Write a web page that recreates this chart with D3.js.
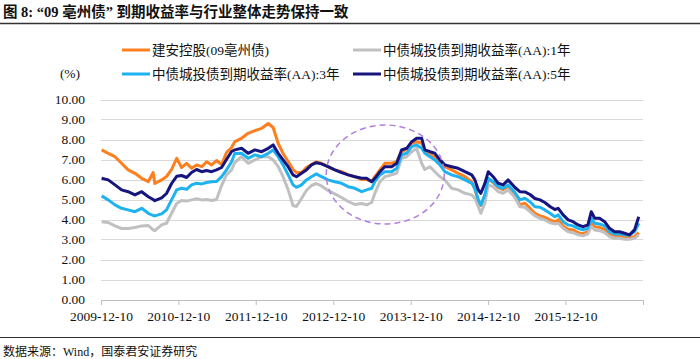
<!DOCTYPE html>
<html><head><meta charset="utf-8">
<script src="https://cdn.jsdelivr.net/npm/d3@7/dist/d3.min.js"></script>
<style>
html,body{margin:0;padding:0;background:#fff;}
svg{display:block;font-family:"Liberation Serif","Noto Sans CJK SC",serif;}
</style></head>
<body><svg id="c" width="700" height="359"></svg>
<script>
const title = "图 8: “09 亳州债” 到期收益率与行业整体走势保持一致";
const source = "数据来源：Wind，国泰君安证券研究";
const seriesNames = ["建安控股(09亳州债)", "中债城投债到期收益率(AA):1年", "中债城投债到期收益率(AA):3年", "中债城投债到期收益率(AA):5年"];
const xTickDates = ["2009-12-10","2010-12-10","2011-12-10","2012-12-10","2013-12-10","2014-12-10","2015-12-10","2016-12-10"];
const xTickLabels = ["2009-12-10","2010-12-10","2011-12-10","2012-12-10","2013-12-10","2014-12-10","2015-12-10",""];
const yTicks = [0,1,2,3,4,5,6,7,8,9,10];

const dates = ["2009-12-13","2010-01-13","2010-02-14","2010-03-17","2010-04-17","2010-05-19","2010-06-20","2010-07-21","2010-08-13","2010-08-21",
"2010-09-22","2010-10-15","2010-11-08","2010-12-02","2010-12-25","2011-01-18","2011-02-10","2011-03-06","2011-03-30","2011-04-22",
"2011-05-16","2011-06-08","2011-07-02","2011-07-25","2011-08-18","2011-09-02","2011-10-04","2011-11-04","2011-12-06","2012-01-07",
"2012-02-07","2012-03-01","2012-03-25","2012-04-17","2012-05-11","2012-06-03","2012-06-19","2012-07-13","2012-08-05","2012-08-29",
"2012-09-21","2012-10-15","2012-11-15","2012-12-17","2013-01-18","2013-02-18","2013-03-22","2013-04-23","2013-05-16","2013-06-09",
"2013-06-24","2013-07-18","2013-08-10","2013-09-11","2013-10-05","2013-10-28","2013-11-21","2013-12-15","2014-01-07","2014-01-31",
"2014-02-15","2014-03-11","2014-04-03","2014-04-27","2014-05-20","2014-06-21","2014-07-22","2014-08-23","2014-09-24","2014-10-09",
"2014-10-25","2014-11-06","2014-11-25","2014-12-11","2015-01-03","2015-01-27","2015-02-19","2015-03-15","2015-04-16","2015-05-09",
"2015-06-02","2015-06-26","2015-07-19","2015-08-12","2015-09-04","2015-09-28","2015-10-21","2015-11-06","2015-11-29","2015-12-23",
"2016-01-15","2016-02-08","2016-03-02","2016-03-25","2016-04-10","2016-04-26","2016-05-19","2016-06-12","2016-07-05","2016-07-29",
"2016-08-21","2016-09-14","2016-10-07","2016-10-31","2016-11-20"];

const bond09 = [7.48,7.31,7.14,6.81,6.48,6.31,6.06,5.89,6.35,5.80,
5.98,6.15,6.50,7.06,6.60,6.81,6.56,6.73,6.64,6.89,
6.73,6.95,6.75,7.35,7.60,7.89,8.06,8.31,8.44,8.56,
8.80,8.60,7.80,7.30,6.90,6.50,6.35,6.35,6.60,6.75,
6.88,6.81,6.64,6.48,6.39,6.23,6.14,6.00,6.00,5.90,
6.14,6.48,6.81,6.81,6.89,7.39,7.51,7.81,7.89,7.81,
7.39,7.23,7.14,6.89,6.64,6.48,6.31,6.14,5.89,5.50,
4.95,4.70,5.20,6.00,5.85,5.60,5.50,5.65,5.23,4.73,
4.81,4.56,4.31,4.18,4.11,3.98,3.89,3.98,3.68,3.51,
3.48,3.34,3.28,3.39,3.81,3.64,3.61,3.51,3.28,3.18,
3.18,3.14,3.11,3.14,3.34];

const aa1y = [3.89,3.85,3.68,3.55,3.55,3.60,3.68,3.70,3.48,3.44,
3.73,3.81,4.31,4.80,4.95,4.92,4.98,5.04,4.98,5.00,
4.95,5.00,5.70,6.23,6.48,6.85,7.14,6.81,6.98,7.14,
7.14,6.98,6.64,6.14,5.48,4.70,4.65,5.05,5.45,5.70,
5.80,5.68,5.45,5.28,5.10,4.90,4.75,4.80,4.73,4.85,
5.31,5.89,6.14,6.23,6.31,7.06,7.14,7.39,7.56,6.80,
6.50,6.64,6.39,6.14,5.98,5.56,5.48,5.31,5.23,5.06,
4.64,4.31,4.81,5.73,5.64,5.39,5.31,5.48,5.10,4.64,
4.61,4.39,4.18,4.06,3.98,3.84,3.78,3.81,3.56,3.39,
3.34,3.23,3.18,3.28,3.64,3.48,3.44,3.34,3.14,3.06,
3.06,3.01,3.01,3.06,3.23];

const aa3y = [5.18,4.98,4.73,4.56,4.48,4.39,4.56,4.31,4.20,4.18,
4.28,4.48,4.98,5.48,5.56,5.51,5.73,5.81,5.78,5.85,
5.89,5.90,6.14,6.48,6.89,7.30,7.31,7.06,7.23,7.14,
7.31,7.48,7.14,6.73,6.23,5.73,5.61,5.73,5.98,6.14,
6.28,6.14,5.98,5.89,5.81,5.64,5.56,5.39,5.48,5.56,
5.89,6.23,6.39,6.39,6.56,7.23,7.31,7.64,7.73,7.56,
7.31,7.14,6.98,6.73,6.39,6.23,6.14,5.98,5.81,5.56,
4.98,4.73,5.23,6.06,5.89,5.64,5.56,5.73,5.35,4.98,
5.06,4.89,4.64,4.61,4.48,4.31,4.14,4.23,3.89,3.73,
3.68,3.56,3.48,3.56,4.06,3.81,3.78,3.68,3.39,3.28,
3.28,3.23,3.23,3.39,3.81];

const aa5y = [6.06,5.98,5.73,5.48,5.39,5.23,5.39,5.14,5.00,4.94,
5.08,5.30,5.80,6.16,6.20,6.10,6.35,6.50,6.39,6.45,
6.39,6.48,6.60,7.00,7.40,7.48,7.56,7.31,7.48,7.39,
7.56,7.73,7.31,6.98,6.64,6.23,6.14,6.31,6.48,6.73,
6.84,6.78,6.64,6.48,6.34,6.23,6.14,6.06,6.06,5.89,
6.06,6.39,6.64,6.64,6.81,7.48,7.56,7.89,8.06,8.06,
7.48,7.39,7.31,6.98,6.73,6.64,6.56,6.39,6.23,5.98,
5.48,5.31,5.81,6.39,6.14,5.81,5.73,5.98,5.60,5.39,
5.38,5.25,5.05,4.98,4.85,4.65,4.50,4.56,4.23,3.98,
3.89,3.73,3.64,3.73,4.39,4.06,4.06,3.89,3.56,3.39,
3.39,3.31,3.23,3.48,4.14];

const colors = ["#FF7F1E","#C0C0C0","#1EB2F0","#16157F"];
const seriesValues = [bond09, aa1y, aa3y, aa5y];
const drawOrder = [0,1,2,3];

const parse = d3.timeParse("%Y-%m-%d");
const svg = d3.select("#c");

const x = d3.scaleTime().domain([parse("2009-12-10"), parse("2016-12-10")]).range([101, 643]);
const y = d3.scaleLinear().domain([0, 10]).range([299.5, 99.5]);

// title
svg.append("text").attr("x", 3).attr("y", 17).attr("font-size", 14.5).attr("font-weight", "bold")
  .attr("fill", "#111").text(title);
svg.append("line").attr("x1", 0).attr("x2", 700).attr("y1", 23.5).attr("y2", 23.5)
  .attr("stroke", "#333").attr("stroke-width", 1.5);

// gridlines
svg.append("g").selectAll("line").data(yTicks.filter(d => d > 0)).join("line")
  .attr("x1", 101).attr("x2", 643)
  .attr("y1", d => Math.round(y(d)) + 0.5).attr("y2", d => Math.round(y(d)) + 0.5)
  .attr("stroke", "#D9D9D9").attr("stroke-width", 1);

// y axis
const yAxis = svg.append("g").attr("transform", "translate(101,0)")
  .call(d3.axisLeft(y).tickValues(yTicks).tickFormat(d3.format(".2f")).tickSize(0).tickPadding(16));
yAxis.select(".domain").remove();
yAxis.selectAll("text").attr("font-size", 13.5).attr("fill", "#111")
  .attr("font-family", "'Liberation Serif',serif");
svg.append("text").attr("x", 70).attr("y", 78).attr("text-anchor", "middle")
  .attr("font-size", 13.5).attr("fill", "#111").text("(%)");

// x axis
const xAxis = svg.append("g").attr("transform", "translate(0,300)")
  .call(d3.axisBottom(x).tickValues(xTickDates.map(parse))
    .tickFormat((d, i) => xTickLabels[i]).tickSizeInner(5).tickSizeOuter(0).tickPadding(6));
xAxis.select(".domain").attr("stroke", "#BFBFBF");
xAxis.selectAll(".tick line").attr("stroke", "#BFBFBF");
xAxis.selectAll("text").attr("font-size", 13.5).attr("fill", "#111")
  .attr("font-family", "'Liberation Serif',serif");

// lines
const line = d3.line().x((d, i) => x(parse(dates[i]))).y(d => y(d)).curve(d3.curveLinear);
const gl = svg.append("g");
drawOrder.forEach(k => {
  gl.append("path").attr("d", line(seriesValues[k])).attr("fill", "none")
    .attr("stroke", colors[k]).attr("stroke-width", 3).attr("stroke-linejoin", "round");
});

// dashed ellipse highlight
svg.append("ellipse").attr("cx", x(parse("2013-08-12"))).attr("cy", y(6.25))
  .attr("rx", 59).attr("ry", 49.5).attr("fill", "none")
  .attr("stroke", "#B07FE0").attr("stroke-width", 1.5).attr("stroke-dasharray", "6,4");

// legend
const legendPos = [[122, 50], [353, 50], [122, 74], [353, 74]];
const lg = svg.append("g");
seriesNames.forEach((name, k) => {
  const [lx, ly] = legendPos[k];
  lg.append("line").attr("x1", lx).attr("x2", lx + 28).attr("y1", ly).attr("y2", ly)
    .attr("stroke", colors[k]).attr("stroke-width", 3);
  lg.append("text").attr("x", lx + 30).attr("y", ly + 5).attr("font-size", 13.5)
    .attr("fill", "#111").text(name);
});

// footer
svg.append("line").attr("x1", 0).attr("x2", 700).attr("y1", 337.5).attr("y2", 337.5)
  .attr("stroke", "#333").attr("stroke-width", 1.2);
svg.append("text").attr("x", 3).attr("y", 356).attr("font-size", 12).attr("fill", "#111").text(source);
</script></body></html>
